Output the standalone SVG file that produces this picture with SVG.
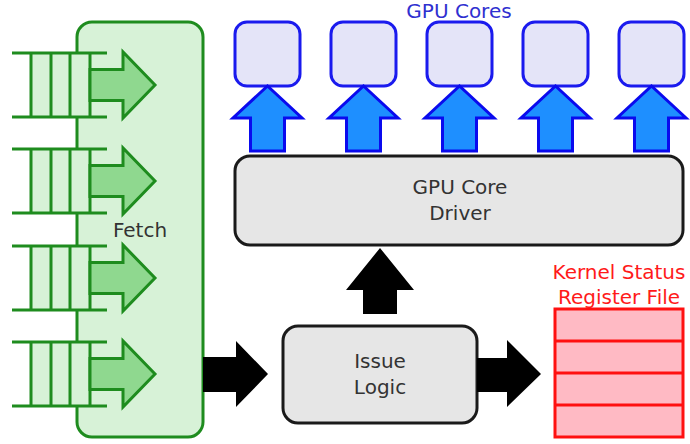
<svg xmlns="http://www.w3.org/2000/svg" width="690" height="444" viewBox="0 0 690 444">
<style>
.lbl{font-family:"DejaVu Sans","Liberation Sans",sans-serif;font-size:20px;text-anchor:middle;fill:#333}
.g{stroke:#1e8c1e;stroke-width:3}
.cell{fill:#d7f2d7}
.garrow{fill:#8fd88f;stroke:#1e8c1e;stroke-width:3;stroke-linejoin:miter}
.core{fill:#e4e4f8;stroke:#1a1aee;stroke-width:3}
.barrow{fill:#1e8fff;stroke:#0a0aee;stroke-width:3}
.grey{fill:#e6e6e6;stroke:#1a1a1a;stroke-width:3}
.black{fill:#000}
</style>
<g id="fetch">
<rect x="77" y="22" width="126" height="415" rx="15" fill="#d7f2d7" stroke="#1e8c1e" stroke-width="3"/>
<text class="lbl" x="140" y="237">Fetch</text>
</g>
<g id="queue1">
<rect class="cell" x="31" y="53" width="59" height="64"/>
<path class="g" d="M12 53H107M12 117H107M31 53V117M51 53V117M70 53V117M90 53V117" fill="none"/>
<polygon class="garrow" points="90,69.5 123,69.5 123,52 155,85 123,118 123,100.5 90,100.5"/>
</g>
<g id="queue2">
<rect class="cell" x="31" y="149" width="59" height="64"/>
<path class="g" d="M12 149H107M12 213H107M31 149V213M51 149V213M70 149V213M90 149V213" fill="none"/>
<polygon class="garrow" points="90,165.5 123,165.5 123,148 155,181 123,214 123,196.5 90,196.5"/>
</g>
<g id="queue3">
<rect class="cell" x="31" y="246" width="59" height="64"/>
<path class="g" d="M12 246H107M12 310H107M31 246V310M51 246V310M70 246V310M90 246V310" fill="none"/>
<polygon class="garrow" points="90,262.5 123,262.5 123,245 155,278 123,311 123,293.5 90,293.5"/>
</g>
<g id="queue4">
<rect class="cell" x="31" y="342" width="59" height="64"/>
<path class="g" d="M12 342H107M12 406H107M31 342V406M51 342V406M70 342V406M90 342V406" fill="none"/>
<polygon class="garrow" points="90,358.5 123,358.5 123,341 155,374 123,407 123,389.5 90,389.5"/>
</g>
<g id="gpu-cores">
<text class="lbl" x="459" y="18" style="fill:#3030d0">GPU Cores</text>
<rect class="core" x="235" y="22" width="65" height="64" rx="12"/>
<rect class="core" x="331" y="22" width="65" height="64" rx="12"/>
<rect class="core" x="427" y="22" width="65" height="64" rx="12"/>
<rect class="core" x="523" y="22" width="65" height="64" rx="12"/>
<rect class="core" x="619" y="22" width="65" height="64" rx="12"/>
</g>
<g id="driver">
<rect class="grey" x="235" y="156" width="448" height="89" rx="15"/>
<text class="lbl" x="460" y="194">GPU Core</text>
<text class="lbl" x="460" y="220">Driver</text>
</g>
<g id="issue">
<rect class="grey" x="283" y="326" width="194" height="97" rx="15"/>
<text class="lbl" x="380" y="368">Issue</text>
<text class="lbl" x="380" y="394">Logic</text>
</g>
<g id="register-file">
<text class="lbl" x="619" y="279" style="fill:#ff1a1a">Kernel Status</text>
<text class="lbl" x="619" y="304" style="fill:#ff1a1a">Register File</text>
<rect x="555" y="309" width="128" height="128" fill="#ffbac4" stroke="#ff1010" stroke-width="3"/>
<path d="M555 341H683M555 373H683M555 405H683" stroke="#ff1010" stroke-width="3" fill="none"/>
</g>
<g id="connectors">
<polygon class="barrow" points="250.5,151 250.5,118 233,118 267.5,86 302,118 284.5,118 284.5,151"/>
<polygon class="barrow" points="346.5,151 346.5,118 329,118 363.5,86 398,118 380.5,118 380.5,151"/>
<polygon class="barrow" points="442.5,151 442.5,118 425,118 459.5,86 494,118 476.5,118 476.5,151"/>
<polygon class="barrow" points="538.5,151 538.5,118 521,118 555.5,86 590,118 572.5,118 572.5,151"/>
<polygon class="barrow" points="634.5,151 634.5,118 617,118 651.5,86 686,118 668.5,118 668.5,151"/>
<polygon class="black" points="203,357 236,357 236,341 268,374 236,407 236,392 203,392"/>
<polygon class="black" points="477,358 507,358 507,340 541,374 507,407 507,392 477,392"/>
<polygon class="black" points="363,314 363,290 346,290 380,248 414,290 397,290 397,314"/>
</g>
</svg>
